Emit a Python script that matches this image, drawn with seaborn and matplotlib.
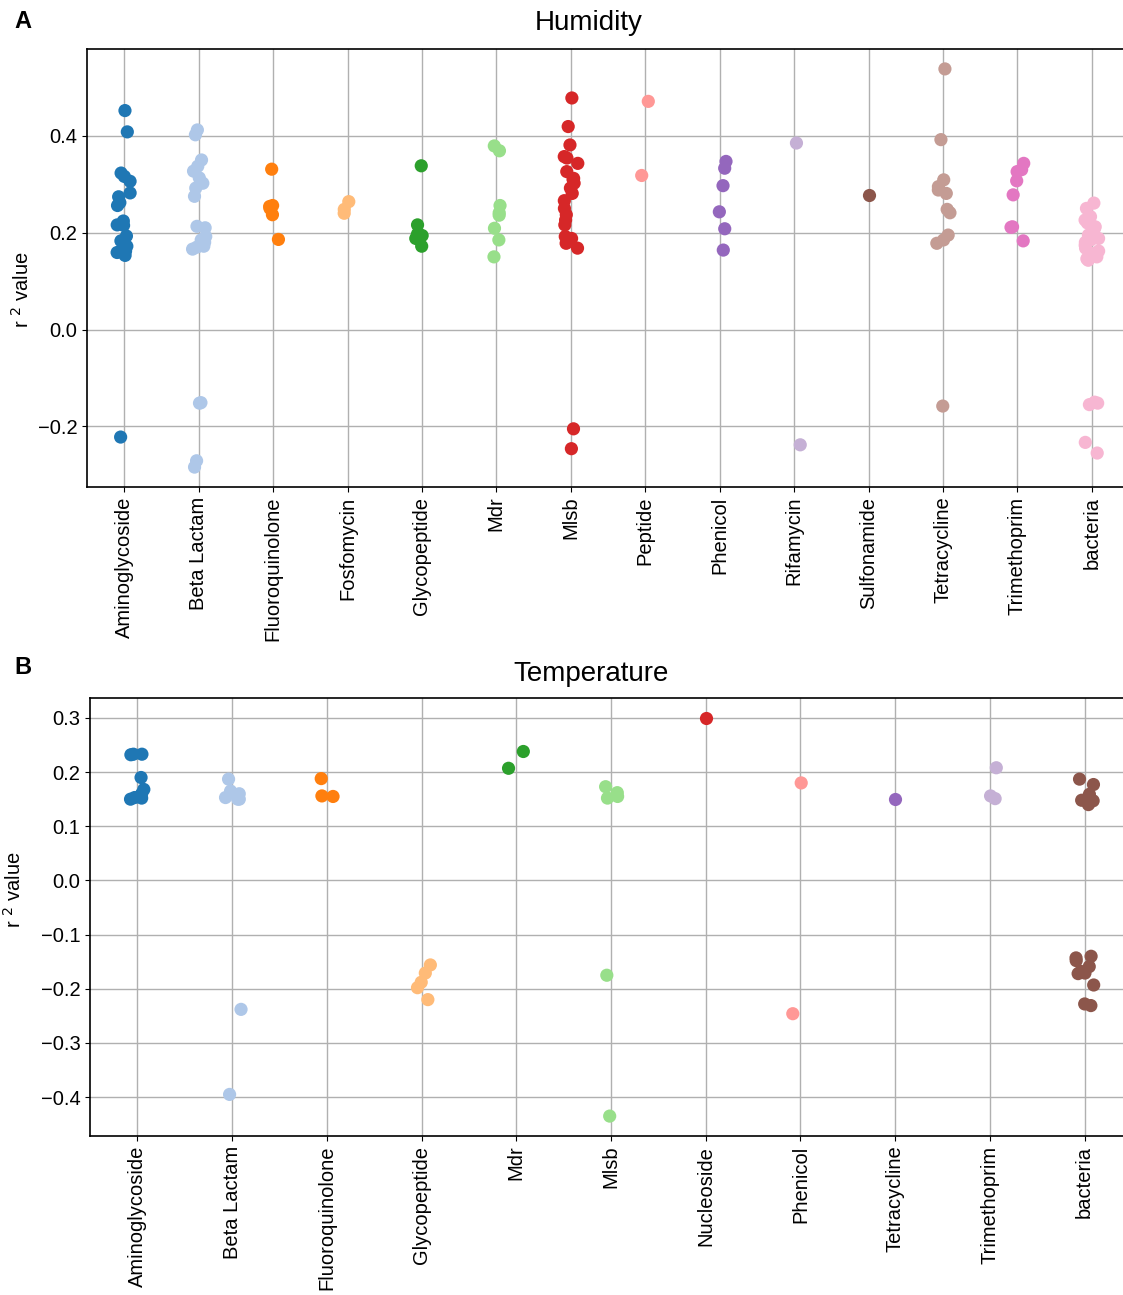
import numpy as np
import pandas as pd
import matplotlib
matplotlib.use("Agg")
import matplotlib.pyplot as plt
import seaborn as sns

plt.rcParams['font.family'] = ['Liberation Sans', 'DejaVu Sans']

# ---------------- Humidity (panel A) ----------------
hum_categories = ["Aminoglycoside", "Beta Lactam", "Fluoroquinolone", "Fosfomycin",
                  "Glycopeptide", "Mdr", "Mlsb", "Peptide", "Phenicol", "Rifamycin",
                  "Sulfonamide", "Tetracycline", "Trimethoprim", "bacteria"]
hum_aminoglycoside = [0.452, 0.408, 0.323, 0.316, 0.306, 0.282, 0.274, 0.262, 0.256, 0.224,
                      0.216, 0.215, 0.193, 0.183, 0.172, 0.162, 0.159, 0.153, -0.222]
hum_beta_lactam = [0.412, 0.402, 0.350, 0.337, 0.327, 0.313, 0.302, 0.292, 0.275, 0.213,
                   0.210, 0.192, 0.185, 0.180, 0.172, 0.170, 0.166, -0.151, -0.152, -0.271, -0.284]
hum_fluoroquinolone = [0.331, 0.256, 0.254, 0.250, 0.237, 0.186]
hum_fosfomycin = [0.264, 0.248, 0.240]
hum_glycopeptide = [0.338, 0.216, 0.197, 0.194, 0.188, 0.172]
hum_mdr = [0.379, 0.369, 0.256, 0.241, 0.236, 0.209, 0.185, 0.150]
hum_mlsb = [0.478, 0.419, 0.381, 0.357, 0.354, 0.343, 0.326, 0.312, 0.310, 0.302, 0.292,
            0.281, 0.266, 0.250, 0.237, 0.226, 0.216, 0.192, 0.188, 0.178, 0.168, -0.205, -0.246]
hum_peptide = [0.471, 0.318]
hum_phenicol = [0.347, 0.333, 0.297, 0.243, 0.208, 0.164]
hum_rifamycin = [0.385, -0.238]
hum_sulfonamide = [0.278]
hum_tetracycline = [0.538, 0.392, 0.309, 0.295, 0.288, 0.281, 0.248, 0.241, 0.195, 0.185,
                    0.178, -0.158]
hum_trimethoprim = [0.343, 0.330, 0.326, 0.307, 0.278, 0.212, 0.211, 0.183]
hum_bacteria = [0.261, 0.250, 0.233, 0.226, 0.220, 0.212, 0.206, 0.199, 0.195, 0.192, 0.188,
                0.185, 0.180, 0.174, 0.168, 0.162, 0.157, 0.150, 0.146, 0.143, -0.150, -0.152,
                -0.155, -0.233, -0.255]

# ---------------- Temperature (panel B) ----------------
tmp_categories = ["Aminoglycoside", "Beta Lactam", "Fluoroquinolone", "Glycopeptide", "Mdr",
                  "Mlsb", "Nucleoside", "Phenicol", "Tetracycline", "Trimethoprim", "bacteria"]
tmp_aminoglycoside = [0.233, 0.233, 0.232, 0.190, 0.168, 0.160, 0.153, 0.152, 0.150]
tmp_beta_lactam = [0.187, 0.165, 0.160, 0.153, 0.150, 0.150, -0.238, -0.395]
tmp_fluoroquinolone = [0.188, 0.156, 0.155]
tmp_glycopeptide = [-0.156, -0.171, -0.188, -0.198, -0.220]
tmp_mdr = [0.238, 0.207]
tmp_mlsb = [0.173, 0.162, 0.155, 0.152, -0.175, -0.435]
tmp_nucleoside = [0.300]
tmp_phenicol = [0.180, -0.246]
tmp_tetracycline = [0.151]
tmp_trimethoprim = [0.208, 0.156, 0.151]
tmp_bacteria = [0.187, 0.177, 0.159, 0.148, 0.147, 0.140, -0.140, -0.143, -0.148, -0.159,
                -0.168, -0.171, -0.172, -0.193, -0.228, -0.231]

hum_series = [hum_aminoglycoside, hum_beta_lactam, hum_fluoroquinolone, hum_fosfomycin,
              hum_glycopeptide, hum_mdr, hum_mlsb, hum_peptide, hum_phenicol, hum_rifamycin,
              hum_sulfonamide, hum_tetracycline, hum_trimethoprim, hum_bacteria]
tmp_series = [tmp_aminoglycoside, tmp_beta_lactam, tmp_fluoroquinolone, tmp_glycopeptide,
              tmp_mdr, tmp_mlsb, tmp_nucleoside, tmp_phenicol, tmp_tetracycline,
              tmp_trimethoprim, tmp_bacteria]


def to_frame(cats, series):
    rows = []
    for c, vals in zip(cats, series):
        for v in vals:
            rows.append((c, v))
    return pd.DataFrame(rows, columns=["category", "r2"])


df_h = to_frame(hum_categories, hum_series)
df_t = to_frame(tmp_categories, tmp_series)

W, H = 1123, 1295
fig = plt.figure(figsize=(W / 100, H / 100), dpi=100)


def axes_px(left, top, right, bottom):
    return fig.add_axes([left / W, 1 - bottom / H, (right - left) / W, (bottom - top) / H])


ax1 = axes_px(87, 49, 1129, 487)
ax2 = axes_px(90, 698, 1132, 1136)

np.random.seed(3)
pal = sns.color_palette("tab20", 20)

for ax, df, cats, title, lab_xy, letter, letter_y, tpad in [
    (ax1, df_h, hum_categories, "Humidity", (-0.052, 0.45), "A", 22, 14),
    (ax2, df_t, tmp_categories, "Temperature", (-0.063, 0.562), "B", 667, 12),
]:
    sns.stripplot(data=df, x="category", y="r2", hue="category", order=cats,
                  hue_order=cats, palette=pal[:len(cats)], jitter=True, size=9.5,
                  linewidth=0, legend=False, ax=ax)
    ax.set_axisbelow(True)
    ax.grid(True, color="#b0b0b0", linewidth=1.0)
    ax.set_xlabel("")
    ax.set_ylabel(r"r $^2$ value", fontsize=14.5)
    ax.yaxis.set_label_coords(*lab_xy)
    ax.set_title(title, fontsize=20, x=0.481, pad=tpad)
    ax.tick_params(axis="x", labelrotation=90, labelsize=14.5)
    ax.tick_params(axis="y", labelsize=14.5)
    ax.set_xlim(-0.5, len(cats) - 0.5)
    for s in ax.spines.values():
        s.set_linewidth(1.2)
    fig.text(14 / W, 1 - letter_y / H, letter, fontsize=17, fontweight="bold",
             va="center", ha="left")

ax1.set_yticks([-0.2, 0.0, 0.2, 0.4])
ax2.set_yticks([-0.4, -0.3, -0.2, -0.1, 0.0, 0.1, 0.2, 0.3])

fig.savefig("out.png", dpi=100)
